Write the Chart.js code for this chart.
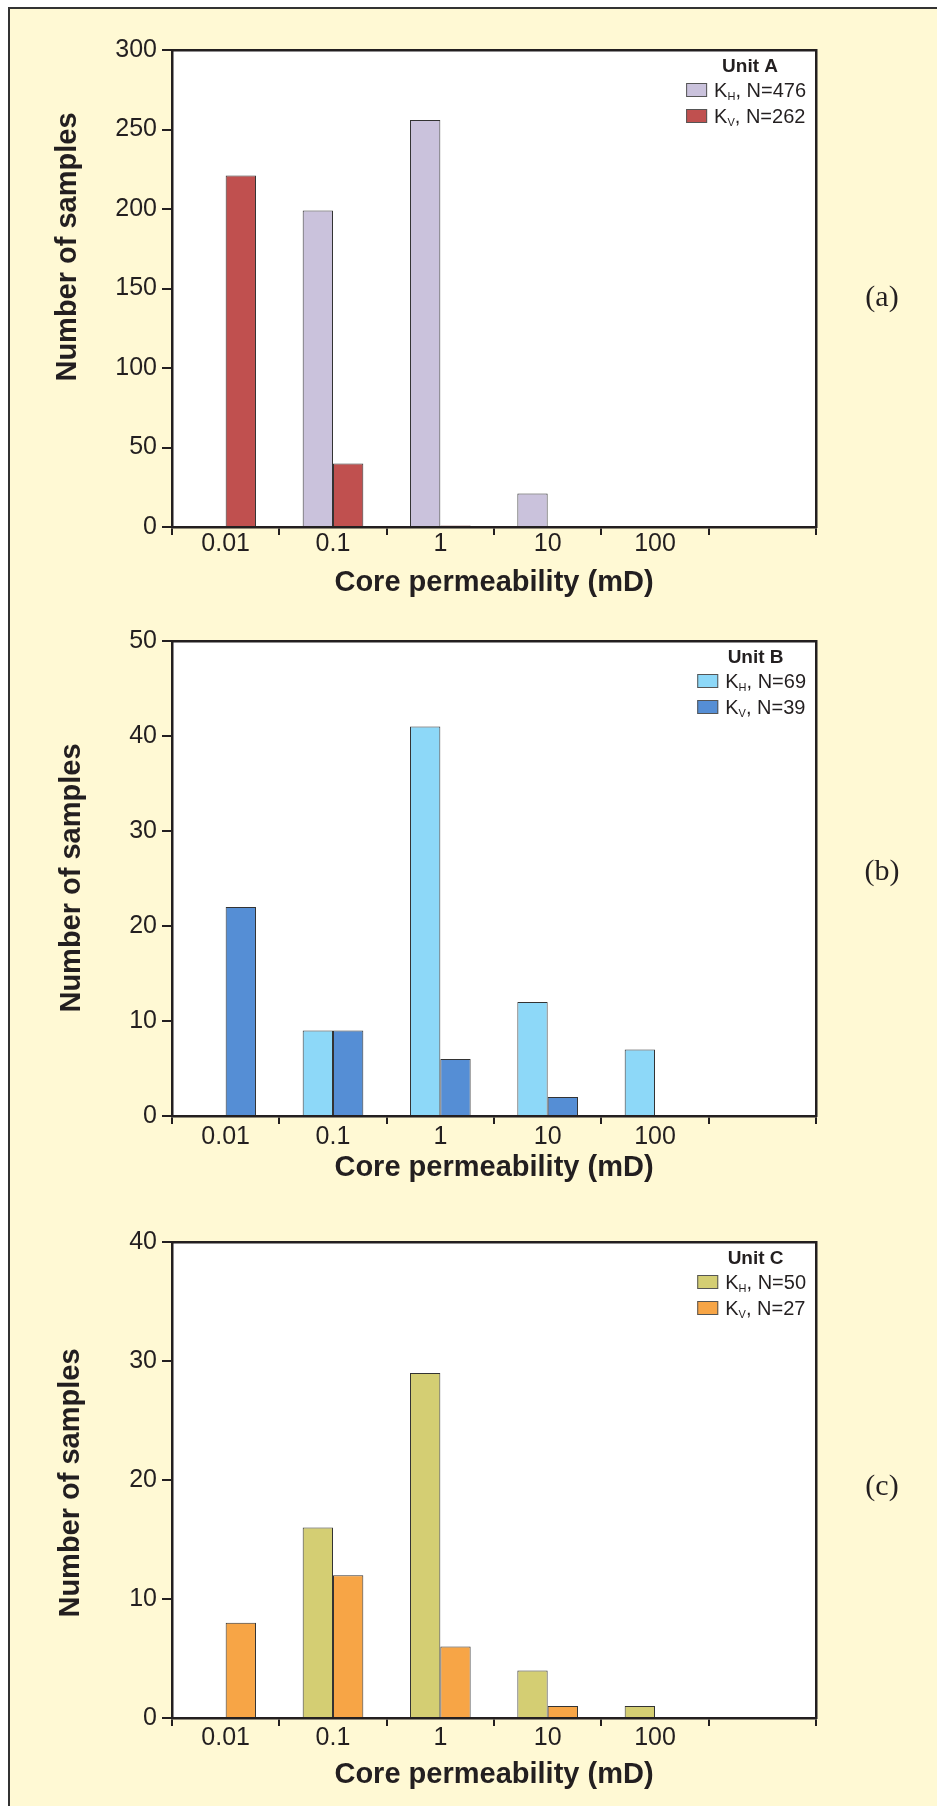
<!DOCTYPE html>
<html lang="en">
<head>
  <meta charset="UTF-8">
  <title>Core permeability - Units A, B, C</title>
  <script src="https://cdn.jsdelivr.net/npm/chart.js"></script>
  <style>
    html, body { margin: 0; padding: 0; background: #fff; }
    body { width: 937px; height: 1806px; position: relative; overflow: hidden; }
    .marco {
      position: absolute; left: 8px; top: 7px; right: -10px; bottom: -10px;
      background: #fff9d4;
      border-left: 2px solid #333; border-top: 2px solid #333;
    }
    .panel { position: absolute; left: 0; width: 937px; }
    #panelA { top: 0; }
    #panelB { top: 600px; }
    #panelC { top: 1200px; }
  </style>
</head>
<body>
  <div class="marco"></div>
  <div class="panel" id="panelA"><canvas id="graficoA" width="937" height="600"></canvas></div>
  <div class="panel" id="panelB"><canvas id="graficoB" width="937" height="600"></canvas></div>
  <div class="panel" id="panelC"><canvas id="graficoC" width="937" height="606"></canvas></div>

  <script>
    // categorias del eje x (la sexta queda vacia)
    const categorias = ['0.01', '0.1', '1', '10', '100', ''];

    // Unit A
    const unidadA_KH = [0, 199, 256, 21, 0, 0];
    const unidadA_KV = [221, 40, 1, 0, 0, 0];
    // Unit B
    const unidadB_KH = [0, 9, 41, 12, 7, 0];
    const unidadB_KV = [22, 9, 6, 2, 0, 0];
    // Unit C
    const unidadC_KH = [0, 16, 29, 4, 1, 0];
    const unidadC_KV = [8, 12, 6, 1, 0, 0];

    const tinta = '#231f20';
    const sans = '"Liberation Sans", Arial, Helvetica, sans-serif';
    Chart.defaults.font.family = sans;
    Chart.defaults.color = tinta;

    function suma(arr) { return arr.reduce((a, b) => a + b, 0); }

    // fondo blanco del area, titulo y, leyenda con subindices y etiqueta (a)/(b)/(c)
    const textosExtra = {
      id: 'textos',
      beforeDraw(chart) {
        const { ctx, chartArea: ca } = chart;
        ctx.save();
        ctx.fillStyle = '#ffffff';
        ctx.fillRect(ca.left, ca.top, ca.right - ca.left, ca.bottom - ca.top);
        ctx.restore();
      },
      afterDraw(chart, args, o) {
        const { ctx, chartArea: ca } = chart;
        ctx.save();
        ctx.fillStyle = tinta;

        // titulo eje y
        ctx.save();
        ctx.translate(o.xTituloY, o.centroTituloY);
        ctx.rotate(-Math.PI / 2);
        ctx.font = 'bold 29px ' + sans;
        ctx.textAlign = 'center';
        ctx.textBaseline = 'middle';
        ctx.fillText('Number of samples', 0, 0);
        ctx.restore();

        // leyenda
        const filas = chart.data.datasets.map(d => ({
          sub: d.sub,
          resto: ', N=' + suma(d.data),
          color: d.backgroundColor
        }));
        const fMain = '20px ' + sans, fSub = '11px ' + sans;
        filas.forEach(f => {
          ctx.font = fMain;
          f.wK = ctx.measureText('K').width;
          f.wR = ctx.measureText(f.resto).width;
          ctx.font = fSub;
          f.wS = ctx.measureText(f.sub).width;
          f.w = f.wK + f.wS + f.wR;
        });
        const anchoMax = Math.max(...filas.map(f => f.w));
        const xTexto = ca.right - 10 - anchoMax;
        const xCaja = xTexto - 28;

        ctx.font = 'bold 19px ' + sans;
        ctx.textAlign = 'center';
        ctx.textBaseline = 'middle';
        ctx.fillText(o.unidad, (xCaja + ca.right - 10) / 2 + 4, ca.top + 17);

        ctx.textAlign = 'left';
        ctx.textBaseline = 'alphabetic';
        filas.forEach((f, i) => {
          const yc = ca.top + 40 + i * 26;
          ctx.fillStyle = f.color;
          ctx.fillRect(xCaja, yc - 7, 21, 14);
          ctx.strokeStyle = '#555';
          ctx.lineWidth = 1;
          ctx.strokeRect(xCaja + 0.5, yc - 6.5, 20, 13);
          ctx.fillStyle = tinta;
          const base = yc + 7;
          ctx.font = fMain;
          ctx.fillText('K', xTexto, base);
          ctx.font = fSub;
          ctx.fillText(f.sub, xTexto + f.wK, base + 3);
          ctx.font = fMain;
          ctx.fillText(f.resto, xTexto + f.wK + f.wS, base);
        });

        // etiqueta del panel
        ctx.font = '30px "Liberation Serif", "Times New Roman", serif';
        ctx.textAlign = 'center';
        ctx.fillText(o.etiqueta, ca.right + 66, o.baseEtiqueta);
        ctx.restore();
      }
    };

    function crearGrafico(id, p) {
      const ctx = document.getElementById(id).getContext('2d');
      return new Chart(ctx, {
        type: 'bar',
        data: {
          labels: categorias,
          datasets: [
            { label: 'KH', sub: 'H', data: p.kh, backgroundColor: p.colorKH, borderColor: '#333333', borderWidth: 1 },
            { label: 'KV', sub: 'V', data: p.kv, backgroundColor: p.colorKV, borderColor: '#333333', borderWidth: 1 }
          ]
        },
        options: {
          responsive: false,
          animation: false,
          categoryPercentage: 0.565,
          barPercentage: 1,
          layout: { padding: { left: 0, right: 121, top: p.arriba, bottom: 0 } },
          plugins: {
            legend: { display: false },
            tooltip: { enabled: false },
            textos: {
              unidad: p.unidad,
              etiqueta: p.etiqueta,
              baseEtiqueta: p.baseEtiqueta,
              xTituloY: p.xTituloY,
              centroTituloY: p.centroTituloY
            }
          },
          scales: {
            x: {
              grid: { offset: true, drawOnChartArea: false, drawTicks: true, tickLength: 8, lineWidth: 2, color: tinta },
              border: { display: true, width: 2.5, color: tinta },
              ticks: { color: tinta, font: { size: 25, lineHeight: 1 }, padding: p.padX, maxRotation: 0, autoSkip: false },
              title: {
                display: true,
                text: 'Core permeability (mD)',
                color: tinta,
                font: { size: 29, weight: 'bold', lineHeight: 1 },
                padding: { top: 0, bottom: p.padTitulo }
              },
              afterFit: s => { s.height = p.altoX; }
            },
            y: {
              min: 0,
              max: p.maxY,
              ticks: { stepSize: p.paso, color: tinta, font: { size: 25 }, padding: 5 },
              grid: { drawOnChartArea: false, tickLength: 10, lineWidth: 2, color: tinta },
              border: { width: 2.5, color: tinta },
              afterFit: s => { s.width = 172; }
            },
            arriba: {
              type: 'category',
              position: 'top',
              grid: { display: false },
              ticks: { display: false },
              border: { display: true, width: 2.5, color: tinta },
              afterFit: s => { s.height = 0; }
            },
            derecha: {
              type: 'linear',
              position: 'right',
              min: 0,
              max: p.maxY,
              grid: { display: false },
              ticks: { display: false },
              border: { display: true, width: 2.5, color: tinta },
              afterFit: s => { s.width = 0; }
            }
          }
        },
        plugins: [textosExtra]
      });
    }

    crearGrafico('graficoA', {
      kh: unidadA_KH, kv: unidadA_KV, colorKH: '#cac2dc', colorKV: '#c0504f',
      unidad: 'Unit A', etiqueta: '(a)', maxY: 300, paso: 50,
      arriba: 50, altoX: 73, padX: -3, padTitulo: 2.5,
      xTituloY: 68, centroTituloY: 247, baseEtiqueta: 305.5
    });

    crearGrafico('graficoB', {
      kh: unidadB_KH, kv: unidadB_KV, colorKH: '#8dd8f8', colorKV: '#558ed5',
      unidad: 'Unit B', etiqueta: '(b)', maxY: 50, paso: 10,
      arriba: 41, altoX: 84, padX: 1, padTitulo: 17.5,
      xTituloY: 72, centroTituloY: 278, baseEtiqueta: 280
    });

    crearGrafico('graficoC', {
      kh: unidadC_KH, kv: unidadC_KV, colorKH: '#d4ce73', colorKV: '#f7a546',
      unidad: 'Unit C', etiqueta: '(c)', maxY: 40, paso: 10,
      arriba: 42, altoX: 88, padX: 0, padTitulo: 16.5,
      xTituloY: 71, centroTituloY: 283, baseEtiqueta: 295
    });
  </script>
</body>
</html>
